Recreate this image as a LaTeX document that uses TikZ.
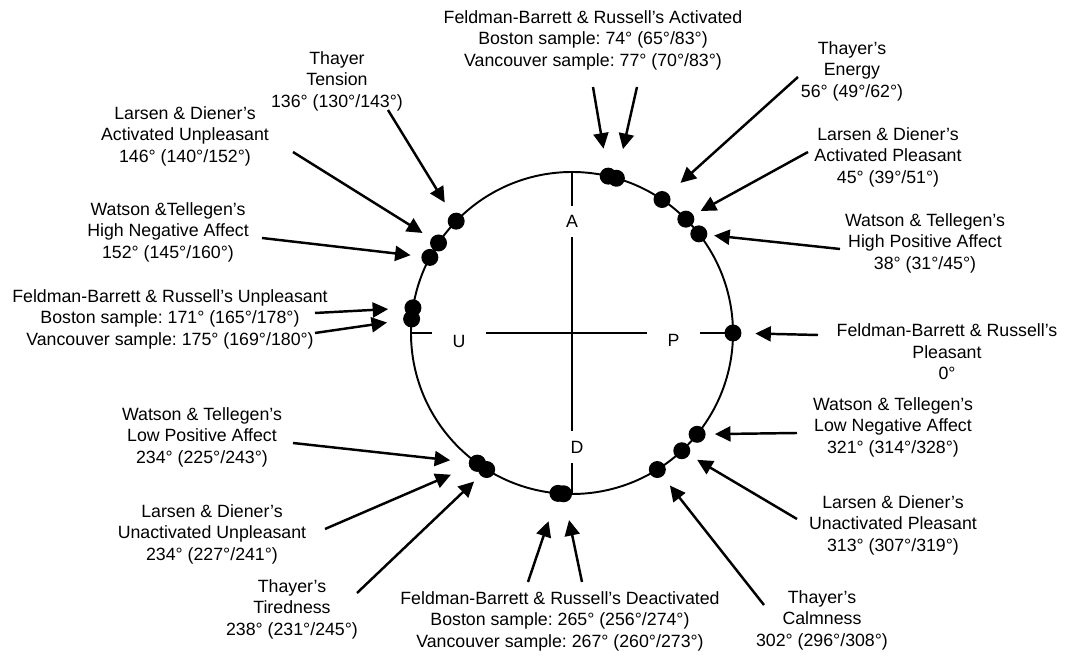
\documentclass[tikz,border=0pt]{standalone}
\usepackage{fontspec}
\setmainfont{Liberation Sans}
\usetikzlibrary{arrows.meta}
\frenchspacing
\tikzset{
  dot/.style={circle,fill,inner sep=0pt,minimum size=0.34cm},
  lab/.style={align=center,inner sep=0pt,font=\fontsize{10.1pt}{12.2pt}\selectfont},
  axlab/.style={fill=white,inner xsep=0.41cm,inner ysep=0.19cm,font=\fontsize{10.1pt}{12.2pt}\selectfont},
  arr/.style={-{Triangle[length=0.31cm,width=0.3cm]},line width=1.4pt},
  rim/.style={line width=1.1pt}
}
\begin{document}
\begin{tikzpicture}
            \useasboundingbox (-11.44,-6.48) rectangle (9.88,6.66);
            % circle and axes
            \draw[rim] (0,0) circle (3.22);
            \draw[rim] (-3.22,0) -- (3.22,0);
            \draw[rim] (0,3.22) -- (0,-3.22);
            \node[axlab] (A) at (0,2.23) {A};
            \node[axlab] (D) at (0.1,-2.28) {D};
            \node[axlab] (U) at (-2.26,-0.16) {U};
            \node[axlab] (P) at (2.03,-0.14) {P};

            % dots
            \node[dot] (d74) at (74:3.22) {};
            \node[dot] (d77) at (77:3.22) {};
            \node[dot] (d56) at (56:3.22) {};
            \node[dot] (d45) at (45:3.22) {};
            \node[dot] (d38) at (38:3.22) {};
            \node[dot] (d0) at (0:3.22) {};
            \node[dot] (d321) at (321:3.22) {};
            \node[dot] (d313) at (313:3.22) {};
            \node[dot] (d302) at (302:3.22) {};
            \node[dot] (d265) at (265:3.22) {};
            \node[dot] (d267) at (267:3.22) {};
            \node[dot] (d238) at (238:3.22) {};
            \node[dot] (d234a) at (234:3.22) {};
            \node[dot] (d234b) at (234:3.22) {};
            \node[dot] (d171) at (171:3.22) {};
            \node[dot] (d175) at (175:3.22) {};
            \node[dot] (d152) at (152:3.22) {};
            \node[dot] (d146) at (146:3.22) {};
            \node[dot] (d136) at (136:3.22) {};

            % labels
            \node[lab] (lAct) at (0.42,5.86) {Feldman-Barrett \& Russell's Activated\\Boston sample: 74° (65°/83°)\\Vancouver sample: 77° (70°/83°)};
            \node[lab] (lEnergy) at (5.60,5.24) {Thayer's\\Energy\\56° (49°/62°)};
            \node[lab] (lActPl) at (6.32,3.52) {Larsen \& Diener's\\Activated Pleasant\\45° (39°/51°)};
            \node[lab] (lHiPos) at (7.06,1.80) {Watson \& Tellegen's\\High Positive Affect\\38° (31°/45°)};
            \node[lab] (lPleas) at (7.50,-0.38) {Feldman-Barrett \& Russell's\\Pleasant\\0°};
            \node[lab] (lLoNeg) at (6.42,-1.88) {Watson \& Tellegen's\\Low Negative Affect\\321° (314°/328°)};
            \node[lab] (lUnPl) at (6.42,-3.84) {Larsen \& Diener's\\Unactivated Pleasant\\313° (307°/319°)};
            \node[lab] (lCalm) at (5.00,-5.74) {Thayer's\\Calmness\\302° (296°/308°)};
            \node[lab] (lDeact) at (-0.24,-5.76) {Feldman-Barrett \& Russell's Deactivated\\Boston sample: 265° (256°/274°)\\Vancouver sample: 267° (260°/273°)};
            \node[lab] (lTired) at (-5.60,-5.52) {Thayer's\\Tiredness\\238° (231°/245°)};
            \node[lab] (lUnUnpl) at (-7.20,-4.02) {Larsen \& Diener's\\Unactivated Unpleasant\\234° (227°/241°)};
            \node[lab] (lLoPos) at (-7.40,-2.08) {Watson \& Tellegen's\\Low Positive Affect\\234° (225°/243°)};
            \node[lab] (lUnpl) at (-8.04,0.28) {Feldman-Barrett \& Russell's Unpleasant\\Boston sample: 171° (165°/178°)\\Vancouver sample: 175° (169°/180°)};
            \node[lab] (lHiNeg) at (-8.08,2.02) {Watson \&Tellegen's\\High Negative Affect\\152° (145°/160°)};
            \node[lab] (lActUnpl) at (-7.74,3.94) {Larsen \& Diener's\\Activated Unpleasant\\146° (140°/152°)};
            \node[lab] (lTension) at (-4.70,5.04) {Thayer\\Tension\\136° (130°/143°)};

            % arrow tails
            \coordinate (t77) at (0.42,4.92);
            \coordinate (t74) at (1.30,4.92);
            \coordinate (tEnergy) at (4.52,5.12);
            \coordinate (tActPl) at (4.72,3.62);
            \coordinate (tHiPos) at (5.36,1.68);
            \coordinate (tPleas) at (4.92,-0.04);
            \coordinate (tLoNeg) at (4.50,-2.00);
            \coordinate (tUnPl) at (4.50,-3.72);
            \coordinate (tCalm) at (3.84,-5.44);
            \coordinate (t265) at (-0.88,-4.98);
            \coordinate (t267) at (0.20,-4.98);
            \coordinate (tTired) at (-4.30,-5.20);
            \coordinate (tUnUnpl) at (-4.94,-3.92);
            \coordinate (tLoPos) at (-5.58,-2.20);
            \coordinate (t171) at (-5.14,0.40);
            \coordinate (t175) at (-5.14,0.0);
            \coordinate (tHiNeg) at (-6.20,1.90);
            \coordinate (tActUnpl) at (-5.58,3.62);
            \coordinate (tTension) at (-3.68,4.46);

            \path[arr] (t77) edge[shorten >=0.38cm] (d77);
            \path[arr] (t74) edge[shorten >=0.42cm] (d74);
            \path[arr] (tEnergy) edge[shorten >=0.32cm] (d56);
            \path[arr] (tActPl) edge[shorten >=0.16cm] (d45);
            \path[arr] (tHiPos) edge[shorten >=0.13cm] (d38);
            \path[arr] (tPleas) edge[shorten >=0.27cm] (d0);
            \path[arr] (tLoNeg) edge[shorten >=0.18cm] (d321);
            \path[arr] (tUnPl) edge[shorten >=0.18cm] (d313);
            \path[arr] (tCalm) edge[shorten >=0.23cm] (d302);
            \path[arr] (t265) edge[shorten >=0.41cm] (d265);
            \path[arr] (t267) edge[shorten >=0.36cm] (d267);
            \path[arr] (tTired) edge[shorten >=0.17cm] (d238);
            \path[arr] (tUnUnpl) edge[shorten >=0.40cm] (d234b);
            \path[arr] (tLoPos) edge[shorten >=0.37cm] (d234a);
            \path[arr] (t171) edge[shorten >=0.32cm] (d171);
            \path[arr] (t175) edge[shorten >=0.32cm] (d175);
            \path[arr] (tHiNeg) edge[shorten >=0.21cm] (d152);
            \path[arr] (tActUnpl) edge[shorten >=0.20cm] (d146);
            \path[arr] (tTension) edge[shorten >=0.26cm] (d136);
        \end{tikzpicture}
\end{document}
